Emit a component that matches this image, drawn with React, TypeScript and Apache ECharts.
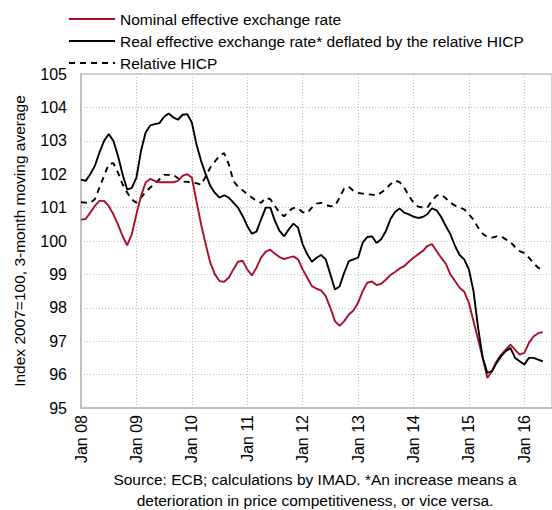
import React, { useEffect, useRef } from "react";
import * as echarts from "echarts";

const nominal = [
  100.64, 100.66, 100.85, 101.05, 101.2, 101.2, 101.05, 100.8, 100.5, 100.15, 99.87, 100.2,
  100.8, 101.35, 101.75, 101.86, 101.8, 101.76, 101.76, 101.76, 101.76, 101.8, 101.95, 102.0,
  101.9, 101.2, 100.5, 99.9, 99.35, 99.0, 98.8, 98.78, 98.9, 99.15, 99.38, 99.41,
  99.15, 98.97, 99.2, 99.5, 99.68, 99.74, 99.62, 99.52, 99.46, 99.5, 99.54, 99.45,
  99.15, 98.9, 98.65, 98.57, 98.52, 98.35, 98.0, 97.6, 97.46, 97.6, 97.8, 97.92,
  98.15, 98.5, 98.75, 98.79, 98.68, 98.72, 98.84, 98.98, 99.07, 99.18, 99.25, 99.38,
  99.5, 99.6, 99.7, 99.85, 99.91, 99.7, 99.5, 99.32, 99.0, 98.8, 98.6, 98.48,
  98.15, 97.6, 97.05, 96.5, 95.9, 96.1, 96.4, 96.6, 96.75, 96.9, 96.75, 96.6,
  96.65, 96.95, 97.14, 97.24, 97.27,
];

const real = [
  101.84, 101.8, 102.0, 102.25, 102.65, 103.0, 103.2, 103.0, 102.55, 102.0, 101.54, 101.59,
  101.9, 102.7, 103.25, 103.46, 103.5, 103.53, 103.72, 103.82, 103.7, 103.63, 103.78, 103.8,
  103.55, 102.9, 102.4, 102.0, 101.65, 101.44, 101.3, 101.37, 101.3, 101.15, 101.0, 100.75,
  100.45, 100.22, 100.28, 100.65, 101.0, 101.0, 100.6, 100.3, 100.14, 100.35, 100.52, 100.4,
  99.9, 99.6, 99.38, 99.5, 99.58, 99.45, 99.0, 98.55, 98.64, 99.05, 99.4, 99.45,
  99.5, 99.95, 100.12, 100.14, 99.94, 100.05, 100.29, 100.65, 100.87, 100.97, 100.85, 100.8,
  100.73, 100.69, 100.72, 100.8, 100.98, 100.92, 100.72, 100.45, 100.2, 99.85, 99.58, 99.45,
  99.15, 98.5, 97.4, 96.5, 96.05, 96.1, 96.35, 96.55, 96.7, 96.8, 96.5, 96.4,
  96.3, 96.5, 96.5, 96.45, 96.4,
];

const hicp = [
  101.16, 101.15, 101.14, 101.25, 101.6, 101.95, 102.3, 102.33, 102.05, 101.7, 101.45, 101.24,
  101.15, 101.3, 101.47, 101.6, 101.72, 101.85, 101.98, 101.98, 101.98, 101.88, 101.78, 101.77,
  101.76, 101.73, 101.68, 101.93, 102.2, 102.38, 102.55, 102.63, 102.3, 101.8, 101.62, 101.52,
  101.4, 101.3, 101.2, 101.14, 101.3, 101.25, 101.05, 100.85, 100.74, 100.9, 100.99, 100.98,
  100.86, 100.84, 101.0, 101.12, 101.14, 101.08, 101.04, 101.05, 101.3, 101.58, 101.62, 101.5,
  101.44, 101.42, 101.4, 101.39, 101.36, 101.45, 101.55, 101.7, 101.81, 101.76, 101.6, 101.35,
  101.15, 101.03, 101.0, 101.0, 101.2, 101.36, 101.39, 101.28, 101.15, 101.06, 101.0, 100.95,
  100.8, 100.64, 100.4, 100.22, 100.12, 100.1, 100.14, 100.14, 100.05, 99.97, 99.82, 99.7,
  99.64, 99.5, 99.34, 99.2, 99.14,
];

const yearLabels = ["Jan 08", "Jan 09", "Jan 10", "Jan 11", "Jan 12", "Jan 13", "Jan 14", "Jan 15", "Jan 16"];
const seriesNames = [
  "Nominal effective exchange rate",
  "Real effective exchange rate* deflated by the relative HICP",
  "Relative HICP",
];
const sourceLines = [
  "Source: ECB; calculations by IMAD. *An increase means a",
  "deterioration in price competitiveness, or vice versa.",
];

const FONT = "Liberation Sans";

export default function App() {
  const ref = useRef<HTMLDivElement>(null);
  useEffect(() => {
    if (!ref.current) return;
    const chart = echarts.init(ref.current, null, { renderer: "svg" });
    const toPairs = (arr: number[]) => arr.map((v, i) => [i, v]);
    chart.setOption({
      animation: false,
      textStyle: { fontFamily: FONT },
      legend: {
        orient: "vertical",
        left: 63,
        top: 6,
        itemWidth: 46,
        itemHeight: 12,
        itemGap: 6,
        itemStyle: { opacity: 0 },
        textStyle: { fontSize: 15.5, color: "#000", fontFamily: FONT },
        data: seriesNames,
      },
      grid: {
        left: 81,
        right: 0,
        top: 74,
        bottom: 102,
        show: true,
        borderColor: "#c8c8c8",
        borderWidth: 1.5,
      },
      xAxis: {
        type: "value",
        min: 0,
        max: 102,
        interval: 12,
        axisLine: { show: true, lineStyle: { color: "#c0c0c0", width: 2 } },
        axisTick: { show: false },
        splitLine: { show: true, lineStyle: { color: "#bdbdbd", type: [1, 2], width: 1 } },
        axisLabel: {
          rotate: 90,
          fontSize: 16,
          color: "#000",
          margin: 7,
          showMaxLabel: false,
          formatter: (v: number) => {
            const idx = Math.round(v / 12);
            return v % 12 === 0 && idx < yearLabels.length ? yearLabels[idx] : "";
          },
        },
      },
      yAxis: {
        type: "value",
        min: 95,
        max: 105,
        interval: 1,
        name: "Index 2007=100, 3-month moving average",
        nameLocation: "middle",
        nameGap: 54,
        nameTextStyle: { fontSize: 15.5, color: "#000", fontFamily: FONT },
        axisLine: { show: true, lineStyle: { color: "#c0c0c0", width: 2 } },
        axisTick: { show: false },
        splitLine: { show: true, lineStyle: { color: "#bdbdbd", type: [1, 2], width: 1 } },
        axisLabel: { fontSize: 16, color: "#000", margin: 14 },
      },
      series: [
        {
          name: seriesNames[0],
          type: "line",
          symbol: "none",
          data: toPairs(nominal),
          lineStyle: { color: "#a8102a", width: 1.9 },
          itemStyle: { color: "#a8102a" },
          z: 3,
        },
        {
          name: seriesNames[1],
          type: "line",
          symbol: "none",
          data: toPairs(real),
          lineStyle: { color: "#000", width: 1.9 },
          itemStyle: { color: "#000" },
          z: 4,
        },
        {
          name: seriesNames[2],
          type: "line",
          symbol: "none",
          data: toPairs(hicp),
          lineStyle: { color: "#000", width: 1.9, type: [6, 5] },
          itemStyle: { color: "#000" },
          z: 2,
        },
      ],
      graphic: [
        {
          type: "text",
          x: 315,
          y: 469,
          style: {
            text: sourceLines.join("\n"),
            fontSize: 15.5,
            lineHeight: 21,
            fill: "#000",
            fontFamily: FONT,
            align: "center",
            textAlign: "center",
          },
        },
      ],
    });
    return () => chart.dispose();
  }, []);
  return <div ref={ref} style={{ width: 552, height: 510, position: "absolute", left: 0, top: 0 }} />;
}
